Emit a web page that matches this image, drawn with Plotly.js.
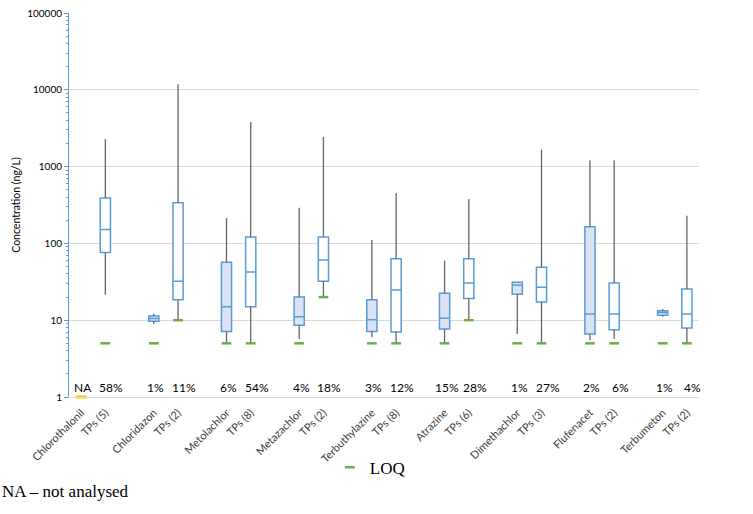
<!DOCTYPE html>
<html>
<head>
<meta charset="utf-8">
<script src="https://cdn.plot.ly/plotly-3.0.1.min.js"></script>
<style>html,body{margin:0;padding:0;background:#fff;}#chart{width:753px;height:514px;}</style>
</head>
<body>
<div id="chart"></div>
<script>
// ---- data ----
const groups = ['Chlorothalonil','Chloridazon','Metolachlor','Metazachlor','Terbuthylazine','Atrazine','Dimethachlor','Flufenacet','Terbumeton'];
const tpLabels = ['TPs (5)','TPs (2)','TPs (8)','TPs (2)','TPs (8)','TPs (6)','TPs (3)','TPs (2)','TPs (2)'];

// parent compounds (null = not analysed)
const parentMin = [null, 8.9, 5, 5.7, 6.0, 5, 6.6, 5.5, 11.1];
const parentQ1  = [null, 9.7, 7.1, 8.6, 7.1, 7.7, 21.8, 6.6, 11.6];
const parentMed = [null, 10.5, 15, 11.1, 10.1, 10.6, 28.8, 12, 12.6];
const parentQ3  = [null, 11.3, 57, 20.1, 18.4, 22.5, 31.3, 165, 13.3];
const parentMax = [null, 12.1, 214, 291, 111, 59.8, 31.3, 1205, 14.0];
const parentLOQ = [null, 5, 5, 5, 5, 5, 5, 5, 5];
const parentPct = ['NA','1%','6%','4%','3%','15%','1%','2%','1%'];

// transformation products
const tpMin = [21.4, 10, 5, 20, 5, 10, 5, 5.7, 5];
const tpQ1  = [76, 18.4, 15, 32.2, 7.0, 19.1, 17.2, 7.5, 7.9];
const tpMed = [152, 32.2, 42.3, 60.6, 24.8, 30.6, 26.9, 12, 12];
const tpQ3  = [390, 338, 121, 121, 63, 63, 49, 30.6, 25.4];
const tpMax = [2290, 11800, 3810, 2430, 453, 378, 1660, 1205, 229];
const tpLOQ = [5, 10, 5, 20, 5, 10, 5, 5, 5];
const tpPct = ['58%','11%','54%','18%','12%','28%','27%','6%','4%'];

const yTickVals = [1, 10, 100, 1000, 10000, 100000];
const yTickText = ['1', '10', '100', '1000', '10000', '100000'];

const naValue = 1;  // NA marker sits at the axis minimum

// ---- build ----
const BLUE = '#5b9bd5', GRAY = '#666666', GREEN = '#70ad47', YELLOW = '#ffc000';
const SLOTS = 3;
const px = g => g * SLOTS, tx = g => g * SLOTS + 1;

const tickvals = [], ticktext = [];
groups.forEach((g, i) => { tickvals.push(px(i), tx(i)); ticktext.push(g, tpLabels[i]); });

function boxSet(mins, q1, med, q3, maxs, posFn) {
  const o = {x: [], q1: [], median: [], q3: [], wx: [], wy: []};
  mins.forEach((m, i) => {
    if (m === null) return;
    const x = posFn(i);
    o.x.push(x); o.q1.push(q1[i]); o.median.push(med[i]); o.q3.push(q3[i]);
    if (maxs[i] > q3[i]) { o.wx.push(x, x, null); o.wy.push(q3[i], maxs[i], null); }
    if (m < q1[i]) { o.wx.push(x, x, null); o.wy.push(m, q1[i], null); }
  });
  return o;
}
const P = boxSet(parentMin, parentQ1, parentMed, parentQ3, parentMax, px);
const T = boxSet(tpMin, tpQ1, tpMed, tpQ3, tpMax, tx);

const loqX = [], loqY = [];
groups.forEach((g, i) => {
  if (parentLOQ[i] !== null) { loqX.push(px(i)); loqY.push(parentLOQ[i]); }
  loqX.push(tx(i)); loqY.push(tpLOQ[i]);
});
const naX = [], naY = [];
parentPct.forEach((p, i) => { if (p === 'NA') { naX.push(px(i)); naY.push(naValue); } });

const traces = [
  {type: 'scatter', mode: 'lines', x: P.wx.concat(T.wx), y: P.wy.concat(T.wy),
   line: {color: GRAY, width: 1.3}, showlegend: false, hoverinfo: 'skip'},
  {type: 'box', x: P.x, q1: P.q1, median: P.median, q3: P.q3, lowerfence: P.q1, upperfence: P.q3,
   width: 0.42, fillcolor: '#dae3f3', line: {color: BLUE, width: 1.5}, boxpoints: false,
   whiskerwidth: 0, showlegend: false, hoverinfo: 'skip'},
  {type: 'box', x: T.x, q1: T.q1, median: T.median, q3: T.q3, lowerfence: T.q1, upperfence: T.q3,
   width: 0.42, fillcolor: '#ffffff', line: {color: BLUE, width: 1.5}, boxpoints: false,
   whiskerwidth: 0, showlegend: false, hoverinfo: 'skip'},
  {type: 'scatter', mode: 'markers', x: loqX, y: loqY, name: 'LOQ',
   marker: {symbol: 'line-ew', size: 7, line: {color: GREEN, width: 2.5}}, cliponaxis: false, hoverinfo: 'skip'},
  {type: 'scatter', mode: 'markers', x: naX, y: naY, showlegend: false,
   marker: {symbol: 'line-ew', size: 8, line: {color: YELLOW, width: 3}}, cliponaxis: false, hoverinfo: 'skip'}
];

const annotations = [];
groups.forEach((g, i) => {
  [[px(i), parentPct[i], 2], [tx(i), tpPct[i], 6]].forEach(([x, t, s]) => {
    annotations.push({x: x, xref: 'x', y: 0.026, yref: 'paper', text: t, showarrow: false,
      xanchor: 'center', yanchor: 'middle', xshift: s, font: {family: 'Lato, sans-serif', size: 12, color: '#000'}});
  });
});
annotations.push({x: -69/630, xref: 'paper', y: -0.245, yref: 'paper', text: 'NA – not analysed',
  showarrow: false, xanchor: 'left', yanchor: 'middle',
  font: {family: 'Liberation Serif, serif', size: 17, color: '#000'}});

const layout = {
  width: 753, height: 514,
  margin: {l: 69, r: 54, t: 13, b: 117},
  paper_bgcolor: '#fff', plot_bgcolor: '#fff',
  showlegend: true,
  legend: {x: 0.414, y: -0.137, xanchor: 'left', yanchor: 'top', orientation: 'h',
    font: {family: 'Liberation Serif, serif', size: 17, color: '#000'}, bgcolor: 'rgba(0,0,0,0)', itemwidth: 30},
  xaxis: {type: 'linear', range: [-0.5, 25.5], tickmode: 'array', tickvals: tickvals, ticktext: ticktext,
    tickangle: -45, ticks: '', showgrid: false, zeroline: false, showline: true, linecolor: '#d9d9d9', linewidth: 1,
    tickfont: {family: 'Lato, sans-serif', size: 11, color: '#404040'}, ticklabelstandoff: 4, automargin: false},
  yaxis: {type: 'log', range: [0, 5], tickmode: 'array', tickvals: yTickVals, ticktext: yTickText,
    showgrid: true, gridcolor: '#d9d9d9', gridwidth: 1, zeroline: false,
    showline: true, linecolor: BLUE, linewidth: 1, ticks: 'outside', ticklen: 4, tickcolor: BLUE,
    minor: {dtick: 'D1', ticks: 'outside', ticklen: 2.5, tickcolor: BLUE, showgrid: false},
    tickfont: {family: 'Lato, sans-serif', size: 10, color: '#000'},
    title: {text: 'Concentration (ng/L)', standoff: 4, font: {family: 'Lato, sans-serif', size: 10.5, color: '#000'}},
    automargin: false},
  annotations: annotations
};

Plotly.newPlot('chart', traces, layout, {displayModeBar: false, staticPlot: true});
</script>
</body>
</html>
